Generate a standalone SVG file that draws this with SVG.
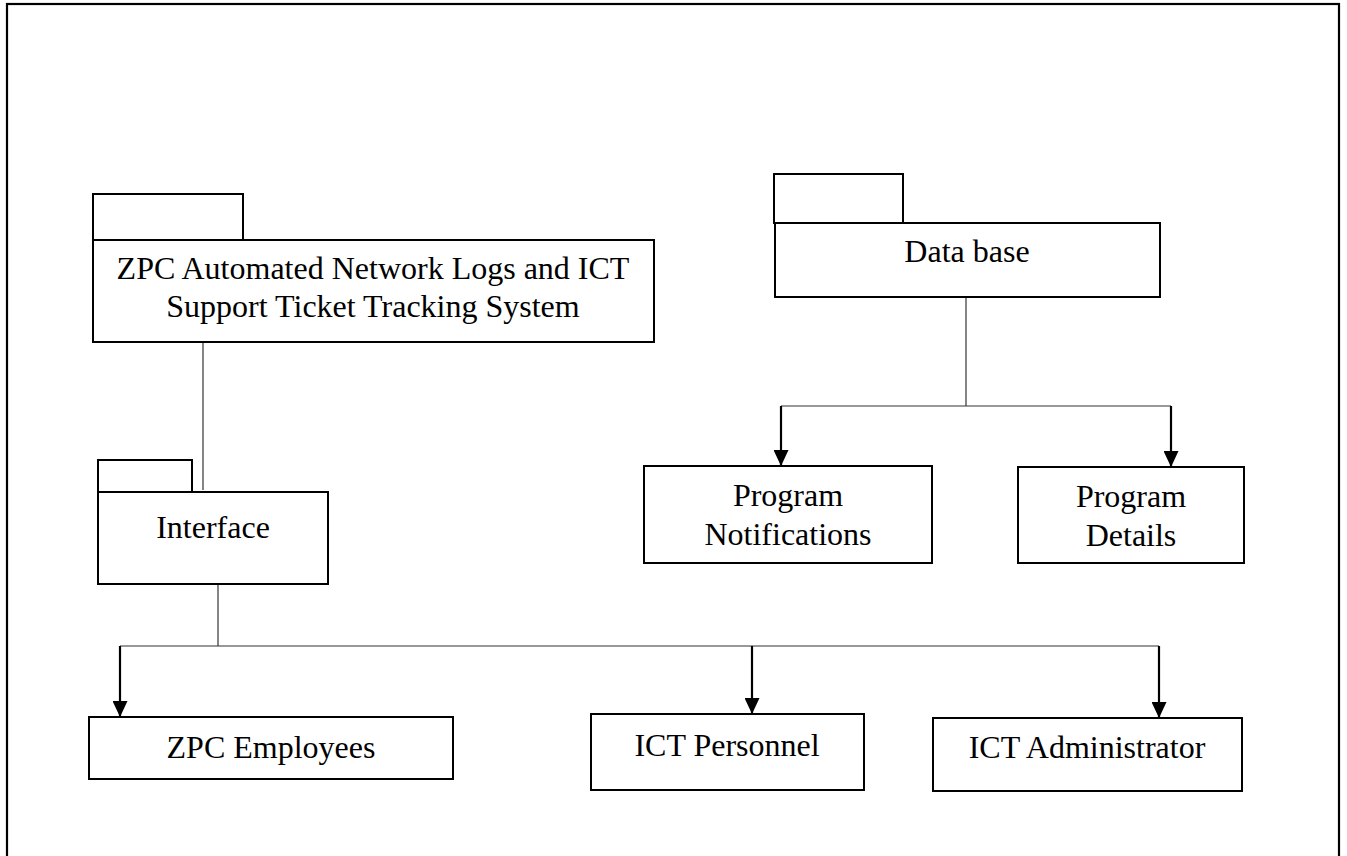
<svg xmlns="http://www.w3.org/2000/svg" width="1347" height="856" viewBox="0 0 1347 856">
<style>
.box{fill:#fff;stroke:#000;stroke-width:2}
.thin{fill:none;stroke:#333;stroke-width:1.2}
.arr{fill:none;stroke:#000;stroke-width:2.2}
text{font-family:"Liberation Serif","Times New Roman",serif;font-size:32px;fill:#000;text-anchor:middle}
</style>
<defs>
<marker id="ah" viewBox="0 0 16 15" refX="16" refY="7.5" markerWidth="16" markerHeight="15" markerUnits="userSpaceOnUse" orient="auto">
<path d="M0,0 L16,7.5 L0,15 z" fill="#000"/>
</marker>
</defs>
<rect x="0" y="0" width="1347" height="856" fill="#fff"/>
<rect id="frame" x="7" y="4" width="1332" height="900" fill="none" stroke="#000" stroke-width="2.2"/>
<g id="connectors">
<line class="thin" x1="203" y1="342" x2="203" y2="490"/>
<line class="thin" x1="218" y1="584" x2="218" y2="646"/>
<line class="thin" x1="120" y1="646" x2="1159" y2="646"/>
<line class="arr" x1="120" y1="646" x2="120" y2="717" marker-end="url(#ah)"/>
<line class="arr" x1="752" y1="646" x2="752" y2="714" marker-end="url(#ah)"/>
<line class="arr" x1="1159" y1="646" x2="1159" y2="718" marker-end="url(#ah)"/>
<line class="thin" x1="966" y1="297" x2="966" y2="406"/>
<line class="thin" x1="781" y1="406" x2="1171" y2="406"/>
<line class="arr" x1="781" y1="406" x2="781" y2="466" marker-end="url(#ah)"/>
<line class="arr" x1="1171" y1="406" x2="1171" y2="467" marker-end="url(#ah)"/>
</g>
<g id="system">
<rect class="box" x="93" y="194" width="150" height="46"/>
<rect class="box" x="93" y="240" width="561" height="102"/>
<text x="373" y="279">ZPC Automated Network Logs and ICT</text>
<text x="373" y="317">Support Ticket Tracking System</text>
</g>
<g id="interface">
<rect class="box" x="98" y="460" width="94" height="32"/>
<rect class="box" x="98" y="492" width="230" height="92"/>
<text x="213" y="538">Interface</text>
</g>
<g id="database">
<rect class="box" x="774" y="174" width="129" height="49"/>
<rect class="box" x="775" y="223" width="385" height="74"/>
<text x="967" y="262">Data base</text>
</g>
<g id="notifications">
<rect class="box" x="644" y="466" width="288" height="97"/>
<text x="788" y="506">Program</text>
<text x="788" y="545">Notifications</text>
</g>
<g id="details">
<rect class="box" x="1018" y="467" width="226" height="96"/>
<text x="1131" y="507">Program</text>
<text x="1131" y="546">Details</text>
</g>
<g id="employees">
<rect class="box" x="89" y="717" width="364" height="62"/>
<text x="271" y="758">ZPC Employees</text>
</g>
<g id="personnel">
<rect class="box" x="591" y="714" width="273" height="76"/>
<text x="727" y="756">ICT Personnel</text>
</g>
<g id="administrator">
<rect class="box" x="933" y="718" width="309" height="73"/>
<text x="1087" y="758">ICT Administrator</text>
</g>
</svg>
